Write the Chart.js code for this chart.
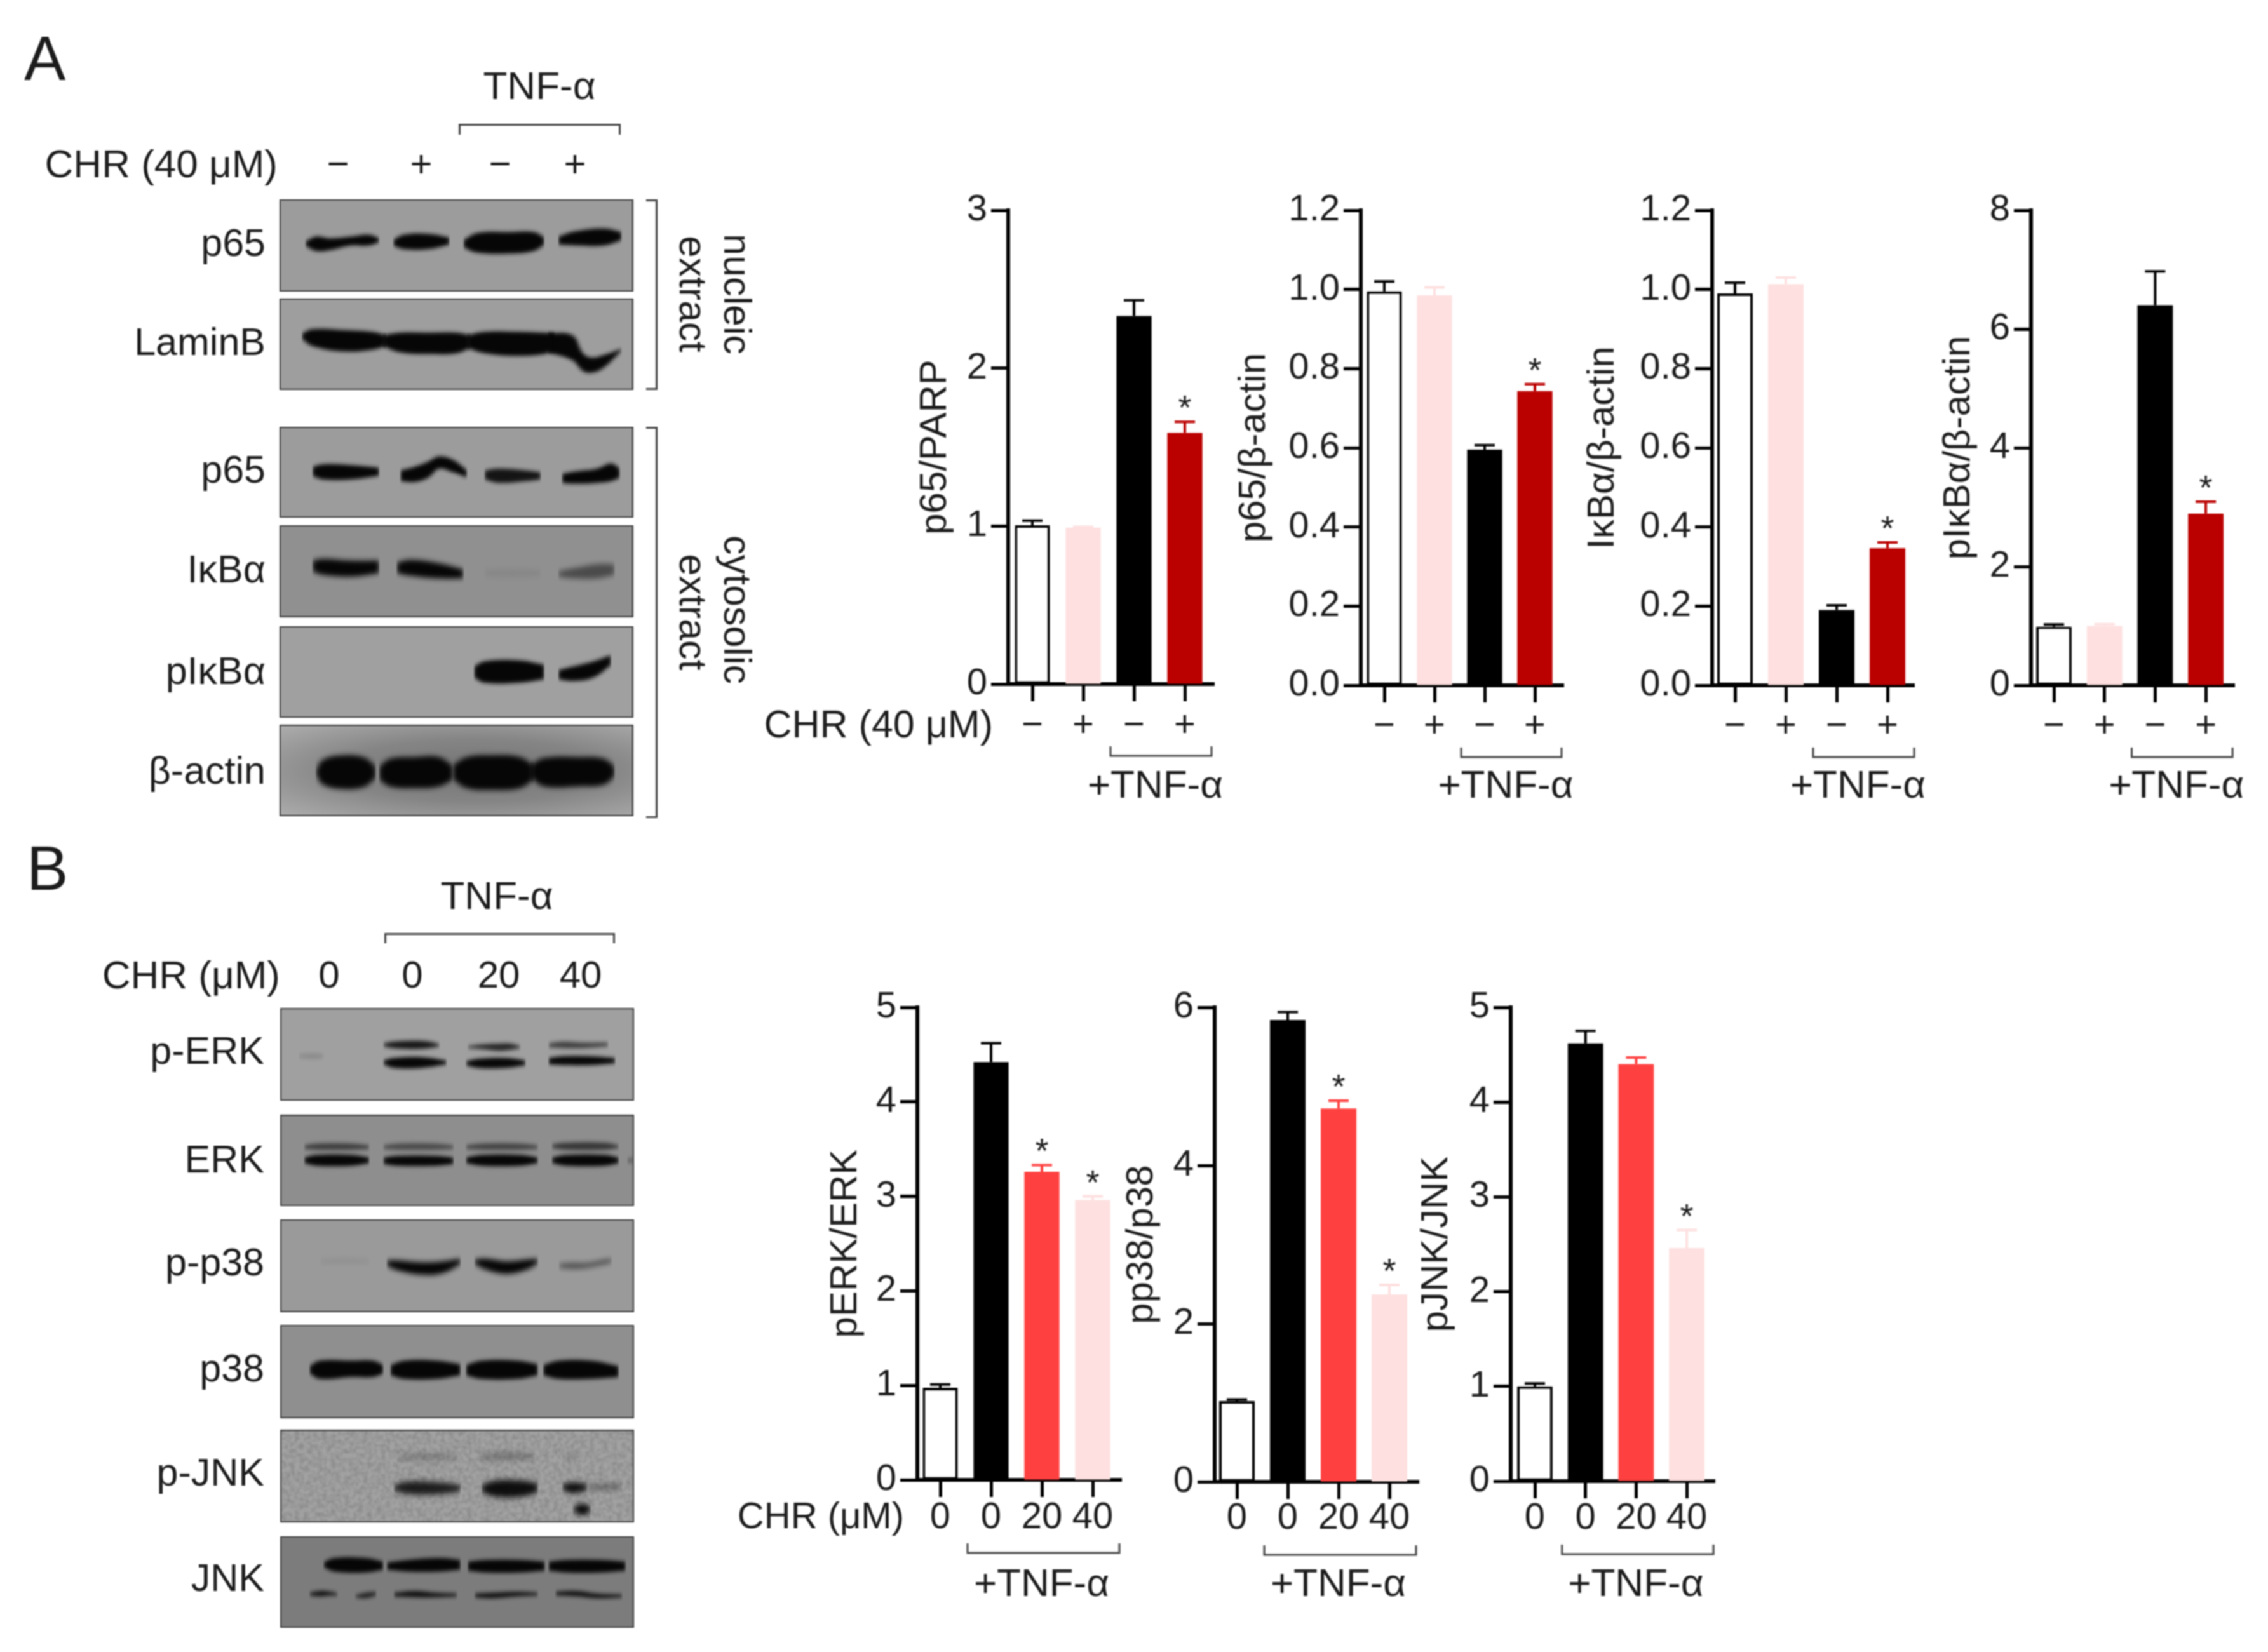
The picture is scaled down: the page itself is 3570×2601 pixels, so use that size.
<!DOCTYPE html>
<html>
<head>
<meta charset="utf-8">
<title>CHR and TNF-α blots</title>
<script src="https://cdn.jsdelivr.net/npm/chart.js@4"></script>
<style>
  html, body { margin: 0; background: #fff; }
  #page { position: relative; width: 3570px; height: 2601px; overflow: hidden; filter: blur(0.9px); }
  canvas { position: absolute; }
  .blot { box-sizing: border-box; border: 2px solid #3c3c3c; }
  .txt { position: absolute; white-space: nowrap; line-height: 1; color: #1c1c1c; font-family: "Liberation Sans", Arial, sans-serif; }
  .brk { position: absolute; box-sizing: border-box; border: 0 solid #444; }
</style>
</head>
<body>
<div id="page"></div>
<script>
// ---- bar chart data ----
const signLabels = ["−", "+", "−", "+"];
const doseLabels = ["0", "0", "20", "40"];

const p65ParpValues = [1.005, 0.99, 2.33, 1.59];
const p65ParpErrors = [0.03, 0.005, 0.10, 0.07];
const p65ActinValues = [0.995, 0.985, 0.595, 0.743];
const p65ActinErrors = [0.025, 0.02, 0.012, 0.018];
const ikbValues = [0.99, 1.013, 0.19, 0.346];
const ikbErrors = [0.027, 0.017, 0.012, 0.015];
const pikbValues = [0.99, 1.0, 6.4, 2.89];
const pikbErrors = [0.035, 0.03, 0.57, 0.2];

const perkValues = [0.975, 4.42, 3.26, 2.96];
const perkErrors = [0.035, 0.2, 0.07, 0.04];
const pp38Values = [1.02, 5.84, 4.72, 2.37];
const pp38Errors = [0.02, 0.1, 0.1, 0.12];
const pjnkValues = [1.0, 4.62, 4.4, 2.46];
const pjnkErrors = [0.03, 0.13, 0.07, 0.19];

const starsA = [false, false, false, true];
const starsB = [false, false, true, true];
const starsJnk = [false, false, false, true];

// ---- blot bands: [darkness, [[x%, top%, bottom%], ...]] along each panel ----
const nuclearP65Bands = [
  [1, [[7,46,50],[10,40,56],[14,42,55],[20,40,50],[25,38,50],[28,42,46]]],
  [1, [[32,44,50],[35,38,54],[42,37,54],[48,41,49]]],
  [1, [[52,44,52],[56,36,58],[65,35,59],[72,35,56],[75,41,49]]],
  [1, [[79,40,49],[84,34,50],[92,31,50],[97,35,44]]]
];
const laminBands = [
  [1, [[6,38,44],[9,33,52],[18,34,58],[26,36,56],[30,40,52]]],
  [1, [[29,40,52],[34,37,59],[42,37,61],[50,37,60],[54,40,54]]],
  [1, [[53,40,54],[58,36,60],[67,36,63],[75,37,61],[78,38,56]]],
  [1, [[76,37,59],[83,40,68],[86,60,80],[88.5,65,82],[92,62,76],[97,55,57]]]
];
const cytoP65Bands = [
  [1, [[9,44,54],[12,41,58],[20,42,58],[28,45,54]]],
  [1, [[34,48,60],[38,44,61],[42,38,56],[45,32,46],[49,36,50],[53,48,56]]],
  [0.9, [[58,48,58],[62,46,62],[70,48,60],[74,50,58]]],
  [1, [[80,52,62],[84,49,63],[90,46,62],[94,40,60],[96.5,46,56]]]
];
const ikbBands = [
  [1, [[9,38,50],[12,36,54],[20,38,56],[28,38,52]]],
  [1, [[33,40,52],[37,37,55],[45,41,58],[52,48,58]]],
  [0.06, [[58,48,56],[66,47,57],[74,48,56]]],
  [0.5, [[79,50,56],[84,46,58],[90,42,58],[95,42,54]]]
];
const pikbBands = [
  [1, [[55,44,56],[58,38,62],[68,37,62],[75,42,58]]],
  [1, [[79,48,58],[83,44,60],[89,38,56],[94,31,42]]]
];
const actinBands = [
  [1, [[10,50,54],[12,38,66],[18,33,71],[24,36,68],[27,46,58]]],
  [1, [[28,46,60],[31,37,68],[38,35,70],[45,35,68],[49,45,60]]],
  [1, [[49,44,60],[53,35,70],[60,33,72],[68,35,70],[72,44,60]]],
  [1, [[71,44,58],[75,36,68],[85,35,68],[92,37,66],[95,46,56]]]
];
const perkBands = [
  [0.14, [[5,50,54],[9,49,55],[12,50,54]]],
  [0.9, [[29,38,41],[32,36,43],[38,35,44],[42,36,43],[45,39,41]]],
  [1, [[29,57,61],[32,54,65],[40,53,65],[47,57,61]]],
  [0.8, [[53,41,43],[57,39,44],[62,38,46],[65,38,45],[68,41,43]]],
  [1, [[52.5,58,62],[56,55,65],[64,54,65],[69.5,57,62]]],
  [0.65, [[76,38,42],[80,36,43],[86,37,43],[93,37,41]]],
  [1, [[76,54,61],[80,52,62],[88,52,62],[95,54,60]]]
];
const erkBands = [
  [0.6, [[6.5,33,37],[10,31,38],[20,31,38],[25,33,37]]],
  [1, [[6.5,47,53],[10,44,56],[20,44,56],[25,47,53]]],
  [0.5, [[29,33,37],[33,31,38],[44,31,38],[49,33,37]]],
  [1, [[29,47,54],[33,45,56],[44,45,56],[49,47,54]]],
  [0.55, [[52.5,33,37],[57,31,38],[68,31,38],[73,33,37]]],
  [1, [[52.5,47,53],[57,44,56],[68,44,56],[73,47,53]]],
  [0.65, [[77,32,36],[81,30,38],[92,30,38],[96,33,36]]],
  [1, [[77,47,53],[81,44,56],[92,44,56],[96,47,53]]],
  [0.4, [[98.5,48,52],[99.5,47,53],[100,48,52]]]
];
const pp38Bands = [
  [0.07, [[11,43,47],[18,42,47],[25,43,47]]],
  [1, [[30,44,50],[33,44,55],[40,46,60],[46,45,58],[51,42,48]]],
  [1, [[55,43,48],[58,42,54],[64,45,59],[70,43,54],[73,42,47]]],
  [0.55, [[79,48,52],[83,47,53],[87,47,52],[91,44,49],[94,42,46]]]
];
const p38Bands = [
  [1, [[8,44,52],[11,38,58],[20,38,56],[26,38,56],[29,43,52]]],
  [1, [[31,43,54],[35,38,58],[44,38,58],[51,42,54]]],
  [1, [[52.5,43,54],[57,38,58],[67,38,58],[73,42,54]]],
  [1, [[74.5,43,54],[79,38,58],[88,38,58],[96,44,56]]]
];
const pjnkBands = [
  [0.22, [[33,27,31],[40,25,32],[50,26,31]]],
  [0.28, [[56,27,31],[63,24,32],[72,26,31]]],
  [0.14, [[80,26,30],[83,25,31],[85,27,30]]],
  [0.85, [[32,60,66],[36,56,70],[45,57,70],[51,60,67]]],
  [0.95, [[57,60,68],[61,55,73],[68,55,73],[73,58,68]]],
  [0.95, [[80,59,66],[83,57,69],[87,59,66]]],
  [0.4, [[87,60,65],[92,59,65],[97,59,64]]],
  [1, [[83,86,88],[85,81,93],[87,82,92],[88,86,88]]]
];
const jnkBands = [
  [1, [[12,28,33],[15,23,38],[24,23,39],[29,27,36]]],
  [1, [[30,28,36],[36,25,38],[45,23,38],[51,25,36]]],
  [1, [[53,27,37],[58,25,39],[68,25,39],[75,27,37]]],
  [1, [[76,27,37],[81,25,39],[91,25,39],[98,27,37]]],
  [0.95, [[8,62,65],[11,60,66],[14,61,65],[16,63,65]]],
  [0.8, [[21,65,67],[24,62,68],[27,61,65]]],
  [0.95, [[32,62,66],[38,60,67],[44,62,67],[50,63,66]]],
  [0.95, [[55,63,67],[60,62,68],[67,61,66],[73,62,65]]],
  [0.95, [[78,61,65],[84,60,66],[90,63,68],[97,64,67]]]
];

// ---- chart set-up ----
const page = document.getElementById("page");
const FONT = '"Liberation Sans", Arial, sans-serif';
const WHITE = "#ffffff", PINK = "#fee0e0", BLACK = "#000000", DARKRED = "#bb0000", RED = "#ff4040";

function addText(text, x, y, size, anchor, rotate) {
  const d = document.createElement("div");
  d.className = "txt";
  d.textContent = text;
  d.style.left = x + "px";
  d.style.top = y + "px";
  d.style.fontSize = size + "px";
  const dx = anchor === "right" ? "-100%" : anchor === "left" ? "0" : "-50%";
  d.style.transform = `translate(${dx}, -50%)` + (rotate ? ` rotate(${rotate}deg)` : "");
  page.appendChild(d);
}

function addBracket(x, y, w, h, sides) {
  const d = document.createElement("div");
  d.className = "brk";
  d.style.cssText = `left:${x}px;top:${y}px;width:${w}px;height:${h}px;`;
  sides.forEach(s => d.style["border" + s + "Width"] = "3px");
  page.appendChild(d);
}

function addCanvas(x, y, w, h, cls) {
  const c = document.createElement("canvas");
  c.width = w;
  c.height = h;
  c.style.left = x + "px";
  c.style.top = y + "px";
  c.style.width = w + "px";
  c.style.height = h + "px";
  if (cls) c.className = cls;
  page.appendChild(c);
  return c;
}

// error bars, stars and the +TNF-α bracket sit on the library's scales
const extrasPlugin = {
  id: "extras",
  afterDatasetsDraw(chart, args, opts) {
    const { ctx, scales } = chart;
    const bars = chart.getDatasetMeta(0).data;
    ctx.save();
    bars.forEach((bar, i) => {
      const capY = scales.y.getPixelForValue(opts.values[i] + opts.errors[i]);
      ctx.strokeStyle = opts.errorColors[i];
      ctx.lineWidth = 4;
      ctx.beginPath();
      ctx.moveTo(bar.x, bar.y);
      ctx.lineTo(bar.x, capY);
      ctx.moveTo(bar.x - 16, capY);
      ctx.lineTo(bar.x + 16, capY);
      ctx.stroke();
      if (opts.stars[i]) {
        ctx.fillStyle = "#1c1c1c";
        ctx.font = "54px " + FONT;
        ctx.textAlign = "center";
        ctx.textBaseline = "alphabetic";
        ctx.fillText("*", bar.x, capY - 4);
      }
    });
    const x0 = scales.x.getPixelForTick(opts.tnfFrom) - 37;
    const x1 = scales.x.getPixelForTick(scales.x.ticks.length - 1) + 42;
    const zero = scales.y.getPixelForValue(0);
    ctx.strokeStyle = "#444";
    ctx.lineWidth = 3;
    ctx.beginPath();
    ctx.moveTo(x0, zero + opts.bracketY);
    ctx.lineTo(x0, zero + opts.bracketY + 15);
    ctx.lineTo(x1, zero + opts.bracketY + 15);
    ctx.lineTo(x1, zero + opts.bracketY);
    ctx.stroke();
    ctx.fillStyle = "#1c1c1c";
    ctx.font = "62px " + FONT;
    ctx.textAlign = "center";
    ctx.textBaseline = "middle";
    ctx.fillText("+TNF-α", (x0 + x1) / 2 + opts.tnfShift, zero + opts.tnfY);
    ctx.restore();
  }
};

function barChart(cfg) {
  const left = cfg.titleX - 30;
  const top = cfg.top - 50;
  const width = cfg.right + 60 - left;
  const height = cfg.zero + 220 - top;
  const canvas = addCanvas(left, top, width, height);
  const tickFont = { family: FONT, size: 58 };
  new Chart(canvas, {
    type: "bar",
    data: {
      datasets: [{
        data: cfg.values.map((v, i) => ({ x: i, y: v })),
        backgroundColor: cfg.colors,
        borderColor: "#000",
        borderWidth: cfg.colors.map(c => c === WHITE ? 4 : 0),
        borderSkipped: false,
        barPercentage: cfg.barPct,
        categoryPercentage: 1
      }]
    },
    options: {
      responsive: false,
      animation: false,
      layout: { padding: { top: cfg.top - top, right: 60, bottom: 0, left: 0 } },
      plugins: {
        legend: { display: false },
        tooltip: { enabled: false },
        extras: {
          values: cfg.values,
          errors: cfg.errors,
          errorColors: cfg.colors.map(c => c === WHITE ? BLACK : c),
          stars: cfg.stars,
          tnfFrom: cfg.tnfFrom,
          bracketY: cfg.bracketY,
          tnfY: cfg.tnfY,
          tnfShift: cfg.tnfShift
        }
      },
      scales: {
        x: {
          type: "linear",
          z: 1,
          offset: false,
          // the first bar stands a little under half a step from the y axis
          min: (cfg.axisX - cfg.first) / cfg.step,
          max: (cfg.right - cfg.first) / cfg.step,
          afterFit: s => { s.height = height - (cfg.zero - top); },
          border: { color: "#000", width: 6 },
          grid: { offset: false, drawOnChartArea: false, drawTicks: true, tickLength: 27, tickWidth: 5, tickColor: "#000" },
          ticks: {
            font: tickFont,
            color: "#1c1c1c",
            padding: cfg.xPad,
            maxRotation: 0,
            autoSkip: false,
            stepSize: 1,
            includeBounds: false,
            callback: v => cfg.labels[v]
          }
        },
        y: {
          z: 1,
          min: 0,
          max: cfg.yMax,
          afterFit: s => { s.width = cfg.axisX - left; },
          border: { color: "#000", width: 6 },
          grid: { drawOnChartArea: false, drawTicks: true, tickLength: 27, tickWidth: 5, tickColor: "#000" },
          ticks: {
            font: tickFont,
            color: "#1c1c1c",
            padding: 6,
            stepSize: cfg.yStep,
            callback: v => v.toFixed(cfg.decimals)
          },
          title: {
            display: true,
            text: cfg.title,
            color: "#1c1c1c",
            font: { family: FONT, size: 60, lineHeight: 1 },
            padding: 0
          }
        }
      }
    },
    plugins: [extrasPlugin]
  });
}

const COLORS_A = [WHITE, PINK, BLACK, DARKRED];
const COLORS_B = [WHITE, BLACK, RED, PINK];

barChart({ labels: signLabels, values: p65ParpValues, errors: p65ParpErrors, stars: starsA, colors: COLORS_A, title: "p65/PARP",
  yMax: 3, yStep: 1, decimals: 0, axisX: 1587, first: 1625, step: 80, right: 1911, top: 331, zero: 1077, titleX: 1472, barPct: 0.69, xPad: 4, tnfFrom: 2, bracketY: 98, tnfY: 162, tnfShift: -9 });
barChart({ labels: signLabels, values: p65ActinValues, errors: p65ActinErrors, stars: starsA, colors: COLORS_A, title: "p65/β-actin",
  yMax: 1.2, yStep: 0.2, decimals: 1, axisX: 2142, first: 2179, step: 79, right: 2461, top: 331, zero: 1079, titleX: 1974, barPct: 0.7, xPad: 3, tnfFrom: 2, bracketY: 98, tnfY: 160, tnfShift: -9 });
barChart({ labels: signLabels, values: ikbValues, errors: ikbErrors, stars: starsA, colors: COLORS_A, title: "IκBα/β-actin",
  yMax: 1.2, yStep: 0.2, decimals: 1, axisX: 2695, first: 2731, step: 80, right: 3013, top: 331, zero: 1079, titleX: 2523, barPct: 0.7, xPad: 3, tnfFrom: 2, bracketY: 98, tnfY: 160, tnfShift: -9 });
barChart({ labels: signLabels, values: pikbValues, errors: pikbErrors, stars: starsA, colors: COLORS_A, title: "pIκBα/β-actin",
  yMax: 8, yStep: 2, decimals: 0, axisX: 3197, first: 3233, step: 79.7, right: 3517, top: 331, zero: 1079, titleX: 3083, barPct: 0.7, xPad: 3, tnfFrom: 2, bracketY: 98, tnfY: 160, tnfShift: -9 });
barChart({ labels: doseLabels, values: perkValues, errors: perkErrors, stars: starsB, colors: COLORS_B, title: "pERK/ERK",
  yMax: 5, yStep: 1, decimals: 0, axisX: 1444, first: 1480, step: 80, right: 1765, top: 1586, zero: 2330, titleX: 1331, barPct: 0.69, xPad: -2, tnfFrom: 1, bracketY: 100, tnfY: 166, tnfShift: -3 });
barChart({ labels: doseLabels, values: pp38Values, errors: pp38Errors, stars: starsB, colors: COLORS_B, title: "pp38/p38",
  yMax: 6, yStep: 2, decimals: 0, axisX: 1912, first: 1947, step: 80, right: 2233, top: 1586, zero: 2333, titleX: 1797, barPct: 0.7, xPad: -4, tnfFrom: 1, bracketY: 100, tnfY: 163, tnfShift: -3 });
barChart({ labels: doseLabels, values: pjnkValues, errors: pjnkErrors, stars: starsJnk, colors: COLORS_B, title: "pJNK/JNK",
  yMax: 5, yStep: 1, decimals: 0, axisX: 2378, first: 2416, step: 79.7, right: 2699, top: 1586, zero: 2332, titleX: 2261, barPct: 0.7, xPad: -3, tnfFrom: 1, bracketY: 100, tnfY: 164, tnfShift: -3 });

// soft edges on the film bands
function softBands(radius) {
  return {
    id: "softBands",
    beforeDatasetsDraw(chart) { chart.ctx.save(); chart.ctx.filter = `blur(${radius}px)`; },
    afterDatasetsDraw(chart) { chart.ctx.restore(); }
  };
}

function blotChart(bands, x, y, w, h, bg, radius) {
  const canvas = addCanvas(x, y, w, h, "blot");
  canvas.style.background = bg;
  const datasets = [];
  bands.forEach(([dark, pts]) => {
    const shared = { borderWidth: 0, pointRadius: 0, tension: 0.4, parsing: false };
    datasets.push({ ...shared, data: pts.map(p => ({ x: p[0], y: p[1] })), fill: false });
    datasets.push({ ...shared, data: pts.map(p => ({ x: p[0], y: p[2] })), fill: "-1", backgroundColor: `rgba(6,6,6,${dark})` });
  });
  new Chart(canvas, {
    type: "line",
    data: { datasets },
    options: {
      responsive: false,
      animation: false,
      layout: { padding: 0 },
      plugins: { legend: { display: false }, tooltip: { enabled: false } },
      scales: {
        x: { type: "linear", min: 0, max: 100, display: false },
        y: { type: "linear", min: 0, max: 100, reverse: true, display: false }
      }
    },
    plugins: [softBands(radius || 3)]
  });
}

// film grain for the long exposure panel
const grainSvg = '<svg xmlns="http://www.w3.org/2000/svg" width="557" height="146"><filter id="n"><feTurbulence type="fractalNoise" baseFrequency="0.14" numOctaves="2" seed="4"/><feColorMatrix values="0 0 0 0 0 0 0 0 0 0 0 0 0 0 0 0.28 0 0 0 -0.09"/></filter><rect width="557" height="146" filter="url(#n)"/></svg>';
const grain = `url("data:image/svg+xml,${encodeURIComponent(grainSvg)}"), #a2a2a2`;
const actinBg = "radial-gradient(ellipse at 55% 50%, #747474 0%, #858585 50%, #adadad 100%)";

blotChart(nuclearP65Bands, 440, 314, 557, 145, "#9c9c9c");
blotChart(laminBands, 440, 470, 557, 144, "#9e9e9e");
blotChart(cytoP65Bands, 440, 672, 557, 143, "#9c9c9c");
blotChart(ikbBands, 440, 827, 557, 145, "#909090", 4);
blotChart(pikbBands, 440, 986, 557, 144, "#a0a0a0");
blotChart(actinBands, 440, 1141, 557, 144, actinBg, 4);
blotChart(perkBands, 441, 1587, 557, 146, "#a0a0a0");
blotChart(erkBands, 441, 1755, 557, 144, "#8e8e8e");
blotChart(pp38Bands, 441, 1920, 557, 146, "#9a9a9a", 4);
blotChart(p38Bands, 441, 2086, 557, 147, "#8f8f8f");
blotChart(pjnkBands, 441, 2251, 557, 146, grain, 5);
blotChart(jnkBands, 441, 2419, 557, 144, "#7c7c7c");

// ---- panel A text ----
addText("A", 38, 92, 98, "left");
addText("TNF-α", 849, 135, 62);
addBracket(722, 195, 255, 17, ["Top", "Left", "Right"]);
addText("CHR (40 μM)", 437, 258, 62, "right");
[["−", 532], ["+", 663], ["−", 787], ["+", 905]].forEach(m => addText(m[0], m[1], 258, 60));
[["p65", 382], ["LaminB", 538], ["p65", 739], ["IκBα", 896], ["pIκBα", 1056], ["β-actin", 1213]]
  .forEach(l => addText(l[0], 418, l[1], 61, "right"));
addBracket(1017, 314, 18, 300, ["Top", "Right", "Bottom"]);
addBracket(1017, 672, 18, 616, ["Top", "Right", "Bottom"]);
addText("nucleic", 1160, 463, 61, "center", 90);
addText("extract", 1090, 463, 61, "center", 90);
addText("cytosolic", 1160, 960, 61, "center", 90);
addText("extract", 1090, 964, 61, "center", 90);
addText("CHR (40 μM)", 1563, 1140, 61, "right");

// ---- panel B text ----
addText("B", 42, 1367, 98, "left");
addText("TNF-α", 782, 1410, 62);
addBracket(605, 1469, 363, 16, ["Top", "Left", "Right"]);
addText("CHR (μM)", 441, 1535, 62, "right");
[["0", 518], ["0", 649], ["20", 785], ["40", 914]].forEach(m => addText(m[0], m[1], 1535, 60));
[["p-ERK", 1654], ["ERK", 1825], ["p-p38", 1987], ["p38", 2154], ["p-JNK", 2318], ["JNK", 2484]]
  .forEach(l => addText(l[0], 416, l[1], 61, "right"));
addText("CHR (μM)", 1423, 2386, 58, "right");
</script>
</body>
</html>
